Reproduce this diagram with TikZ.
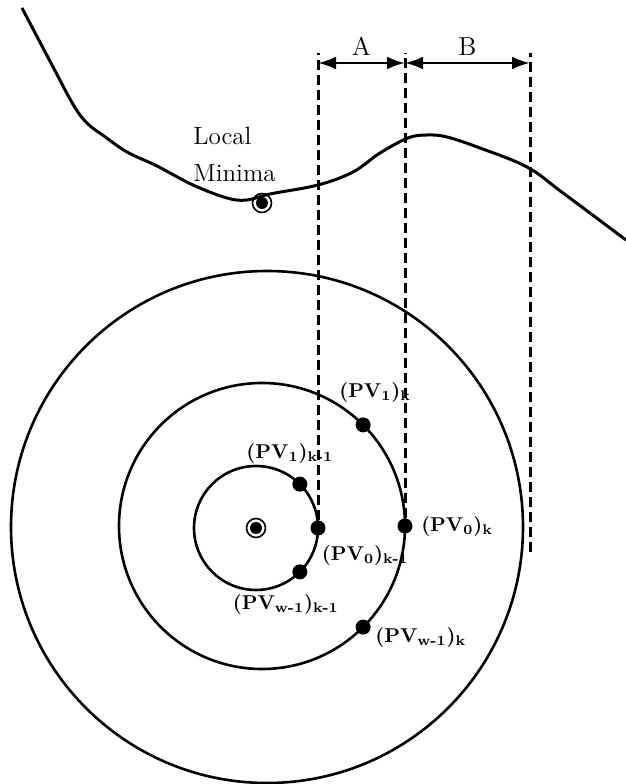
\documentclass[tikz,border=0pt]{standalone}
\usepackage{tikz}
\usetikzlibrary{arrows.meta, positioning}

\begin{document}
\begin{tikzpicture}[x=0.5pt, y=0.5pt, >={Latex[length=9pt,width=6.5pt]},
    pv/.style={circle, fill, inner sep=0pt, minimum size=7.5pt},
    ring/.style={circle, draw, line width=0.8pt, inner sep=0pt, minimum size=9.5pt,
      path picture={\fill (path picture bounding box.center) circle (3pt);}},
    lbl/.style={inner sep=0pt, font=\fontsize{10}{12}\selectfont\bfseries},
    orbit/.style={line width=1.3pt},
    guide/.style={line width=1.5pt, dash pattern=on 5pt off 2.5pt},
    span/.style={<->, line width=1.4pt}]
  \useasboundingbox (0,0) rectangle (626,784);

  % landscape curve
  \draw[line width=1.5pt, line join=round] plot[smooth, tension=0.6] coordinates {
    (22,776) (52,719) (74,678) (88,660) (104,648) (127,632) (157,618) (193,599)
    (227,586) (247,584) (270,590) (318,599) (353,612) (380,631) (408,646)
    (427,649) (447,647) (480,636) (527,617) (563,591) (626,544)};
  \node[ring] (lmin) at (262,581) {};
  \node[inner sep=0pt, align=left, anchor=south west,
    font=\fontsize{12.5}{18.5}\selectfont] (lmtxt) at (193,602) {Local\\Minima};

  % circles
  \coordinate (c0) at (256,256);
  \coordinate (c1) at (262,258);
  \coordinate (c2) at (267,257);
  \node[ring] (ctr) at (c0) {};
  \draw[orbit] (c0) circle[radius=31pt];
  \draw[orbit] (c1) circle[radius=71.5pt];
  \draw[orbit] (c2) circle[radius=128pt];

  % points on the circles
  \node[pv] (pv1km1) at ([shift={(45:31pt)}]c0) {};
  \node[pv] (pv0km1) at ([shift={(0:31pt)}]c0) {};
  \node[pv] (pvwkm1) at ([shift={(-45:31pt)}]c0) {};
  \node[pv] (pv1k) at ([shift={(45:71.5pt)}]c1) {};
  \node[pv] (pv0k) at ([shift={(0:71.5pt)}]c1) {};
  \node[pv] (pvwk) at ([shift={(-45:71.5pt)}]c1) {};

  \node[lbl, above=6pt of pv1km1, xshift=-5pt] (l1km1) {(PV\textsubscript{1})\textsubscript{k-1}};
  \node[lbl, below right=6pt and -1pt of pv0km1] (l0km1) {(PV\textsubscript{0})\textsubscript{k-1}};
  \node[lbl, below=7pt of pvwkm1, xshift=-7pt] (lwkm1) {(PV\textsubscript{w-1})\textsubscript{k-1}};
  \node[lbl, above=7pt of pv1k, xshift=6pt] (l1k) {(PV\textsubscript{1})\textsubscript{k}};
  \node[lbl, right=4pt of pv0k] (l0k) {(PV\textsubscript{0})\textsubscript{k}};
  \node[lbl, right=2pt of pvwk, yshift=-5pt] (lwk) {(PV\textsubscript{w-1})\textsubscript{k}};

  % guide lines and spans
  \coordinate (top) at (0,731);
  \coordinate (arr) at (0,721);
  \coordinate (bend) at (530,232);
  \coordinate (btop) at (530,731);
  \draw[guide] (pv0km1) -- (pv0km1 |- top);
  \draw[guide] (pv0k) -- (pv0k |- top);
  \draw[guide] (bend) -- (btop);
  \draw[span] (pv0km1 |- arr) -- node[above=3pt, inner sep=0pt, font=\fontsize{13}{15}\selectfont] (la) {A} (pv0k |- arr);
  \draw[span] (pv0k |- arr) -- node[above=3pt, inner sep=0pt, font=\fontsize{13}{15}\selectfont] (lb) {B} (btop |- arr);
\end{tikzpicture}
\end{document}
